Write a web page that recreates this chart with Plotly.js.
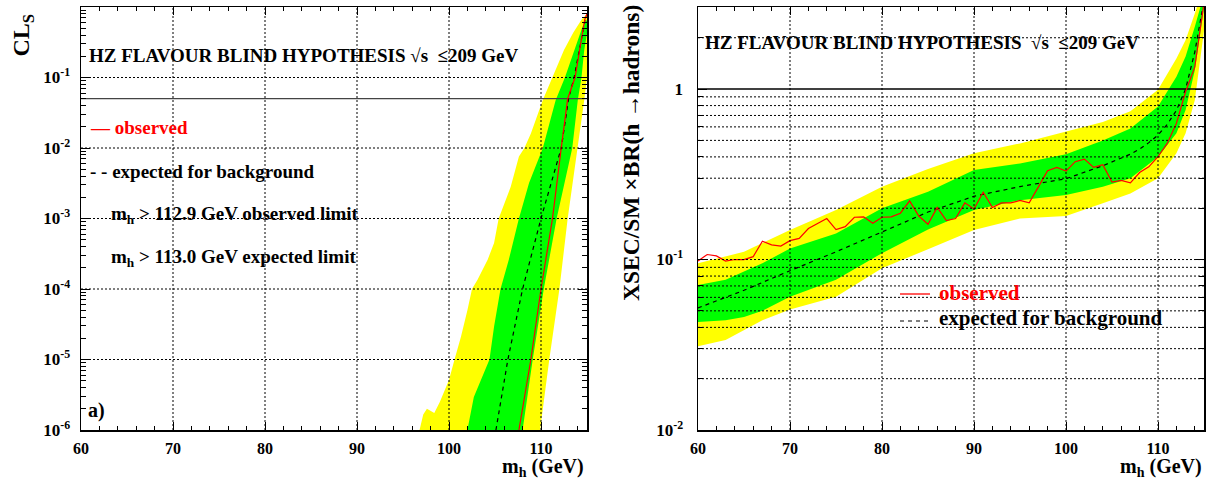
<!DOCTYPE html>
<html><head><meta charset="utf-8">
<script src="https://cdn.plot.ly/plotly-3.0.1.min.js"></script>
<style>html,body{margin:0;padding:0;background:#fff}#chart{width:1208px;height:482px}</style>
</head><body><div id="chart"></div>
<script>
// ---------------- data: panel a) CLs vs m_h ----------------
const clsObsMass = [107.6, 108.2, 108.9, 110.0, 111.25, 112.2, 112.9, 113.7, 114.2, 114.75, 115.0];
const clsObs     = [1.0e-6, 2.9e-6, 1.0e-5, 1.0e-4, 1.0e-3, 1.0e-2, 5.0e-2, 1.0e-1, 2.45e-1, 6.6e-1, 8.0e-1];
const clsExpMass = [105.1, 106.4, 108.0, 110.0, 112.2, 113.0, 113.6, 114.2, 114.8, 115.0];
const clsExp     = [1.0e-6, 1.0e-5, 1.0e-4, 1.0e-3, 1.0e-2, 5.0e-2, 1.0e-1, 2.45e-1, 6.6e-1, 7.5e-1];
const cls2sUpMass = [96.8, 97.2, 97.6, 98.0, 98.4, 99.0, 100.0, 100.6, 101.3, 102.0, 102.5, 103.1, 104.2, 104.9, 105.4, 106.7, 107.6, 108.2, 108.9, 110.2, 111.2, 112.5, 113.5, 114.4, 115.0];
const cls2sUp     = [1.0e-6, 1.66e-6, 2.0e-6, 1.86e-6, 1.74e-6, 2.5e-6, 5.1e-6, 1.0e-5, 2.1e-5, 5.0e-5, 1.0e-4, 1.35e-4, 2.6e-4, 4.5e-4, 1.0e-3, 2.8e-3, 7.6e-3, 1.0e-2, 1.6e-2, 4.8e-2, 1.0e-1, 2.45e-1, 4.3e-1, 6.6e-1, 8.0e-1];
const cls2sLoMass = [109.9, 110.9, 112.0, 112.9, 114.0, 114.7, 115.0];
const cls2sLo     = [1.0e-6, 1.0e-5, 1.0e-4, 1.0e-3, 1.0e-2, 4.8e-2, 1.0e-1];
const cls1sUpMass = [102.0, 102.7, 104.4, 104.9, 105.6, 106.5, 107.6, 108.7, 110.2, 111.6, 112.6, 113.6, 114.5, 115.0];
const cls1sUp     = [1.0e-6, 2.95e-6, 1.0e-5, 2.95e-5, 1.0e-4, 2.6e-4, 1.0e-3, 3.2e-3, 1.0e-2, 4.8e-2, 1.0e-1, 2.45e-1, 5.2e-1, 6.6e-1];
const cls1sLoMass = [108.0, 109.1, 110.3, 111.7, 113.4, 114.0, 114.4, 114.7, 115.0];
const cls1sLo     = [1.0e-6, 1.0e-5, 1.0e-4, 1.0e-3, 1.0e-2, 4.8e-2, 1.0e-1, 2.45e-1, 4.2e-1];
const CL95 = 0.05;

// ---------------- data: panel b) XSEC/SM x BR limit ----------------
const obsMass = [60,61,62,63,64,65,66,67,68,69,70,71,72,73,74,75,76,77,78,79,80,81,82,83,84,85,86,87,
                 88,89,90,91,92,93,94,95,96,97,98,99,100,101,102,103,104,105,106,107,108,109,110,111,112,113,114,115];
const obsLimit = [0.098,0.107,0.105,0.098,0.100,0.100,0.104,0.128,0.122,0.120,0.129,0.133,0.152,0.163,0.174,0.150,
                  0.156,0.177,0.178,0.163,0.177,0.178,0.187,0.221,0.180,0.161,0.202,0.169,
                  0.174,0.215,0.198,0.248,0.202,0.215,0.215,0.222,0.215,0.267,0.332,0.347,0.330,0.375,0.388,0.347,
                  0.360,0.285,0.291,0.282,0.324,0.350,0.401,0.480,0.629,0.964,1.35,3.2];
const expMass  = [60, 65, 70, 75, 80, 85, 90, 95, 100, 104, 107, 108, 109, 110, 111, 112, 113, 114, 115];
const expLimit = [0.052, 0.066, 0.086, 0.111, 0.145, 0.19, 0.235, 0.268, 0.298, 0.355, 0.415, 0.445, 0.485, 0.537, 0.62, 0.75, 1.0, 1.65, 3.3];
const bandMass = [60, 63, 65, 67, 70, 75, 80, 85, 90, 95, 100, 104, 107, 110, 112, 113, 114, 115];
const band2sHi = [0.095, 0.104, 0.111, 0.125, 0.149, 0.195, 0.267, 0.34, 0.42, 0.48, 0.56, 0.64, 0.74, 0.99, 1.51, 1.94, 2.78, 4.0];
const band1sHi = [0.071, 0.076, 0.085, 0.095, 0.116, 0.142, 0.20, 0.25, 0.335, 0.366, 0.415, 0.50, 0.588, 0.79, 1.18, 1.55, 2.32, 3.6];
const band1sLo = [0.043, 0.044, 0.046, 0.050, 0.0605, 0.076, 0.109, 0.15, 0.195, 0.223, 0.239, 0.267, 0.30, 0.40, 0.55, 0.753, 1.29, 3.0];
const band2sLo = [0.031, 0.0337, 0.0386, 0.044, 0.051, 0.0605, 0.0888, 0.115, 0.149, 0.174, 0.180, 0.214, 0.244, 0.30, 0.42, 0.55, 0.86, 2.2];
const SM_RATIO = 1;

const xTickVals = [60, 70, 80, 90, 100, 110];
const yTickVals1 = [1e-6, 1e-5, 1e-4, 1e-3, 1e-2, 1e-1];
const yTickText1 = ['10<sup>-6</sup>','10<sup>-5</sup>','10<sup>-4</sup>','10<sup>-3</sup>','10<sup>-2</sup>','10<sup>-1</sup>'];
const yTickVals2 = [1e-2, 1e-1, 1];
const yTickText2 = ['10<sup>-2</sup>','10<sup>-1</sup>','1'];

// ---------------- layout helpers ----------------
const W = 1208, H = 482, PT = 7, PB = 52;
const XMIN = 60, XMAX = 115;
const Y1 = [-6, 0];
const Y2 = [-2, Math.log10(3.03)];
const px = x => x / W;
const py = y => (H - PB - y) / (H - PT - PB);
const FONT = 'Liberation Serif, Times New Roman, serif';
const GRID = { color: 'black', width: 1, dash: '2px,2px' };

function poly(m1, v1, m2, v2) {
  return { x: m1.concat(m2.slice().reverse()), y: v1.concat(v2.slice().reverse()) };
}
function fillTrace(p, color, xa, ya) {
  return { x: p.x, y: p.y, xaxis: xa, yaxis: ya, type: 'scatter', mode: 'lines', fill: 'toself',
           fillcolor: color, line: { width: 0, color: color }, hoverinfo: 'skip', showlegend: false };
}
function lineTrace(x, y, color, dash, width, xa, ya) {
  return { x: x, y: y, xaxis: xa, yaxis: ya, type: 'scatter', mode: 'lines',
           line: { color: color, width: width, dash: dash }, hoverinfo: 'skip', showlegend: false };
}

const traces = [
  fillTrace(poly(cls2sUpMass, cls2sUp, cls2sLoMass, cls2sLo), '#ffff00', 'x', 'y'),
  fillTrace(poly(cls1sUpMass, cls1sUp, cls1sLoMass, cls1sLo), '#00ff00', 'x', 'y'),
  lineTrace([XMIN, XMAX], [CL95, CL95], '#444444', 'solid', 1.3, 'x', 'y'),
  lineTrace(clsExpMass, clsExp, '#000000', '4px,4px', 1.2, 'x', 'y'),
  lineTrace(clsObsMass, clsObs, '#ff0000', 'solid', 1.2, 'x', 'y'),
  fillTrace(poly(bandMass, band2sHi, bandMass, band2sLo), '#ffff00', 'x2', 'y2'),
  fillTrace(poly(bandMass, band1sHi, bandMass, band1sLo), '#00ff00', 'x2', 'y2'),
  lineTrace([XMIN, XMAX], [SM_RATIO, SM_RATIO], '#000000', 'solid', 1.5, 'x2', 'y2'),
  lineTrace(expMass, expLimit, '#000000', '4px,4px', 1.2, 'x2', 'y2'),
  lineTrace(obsMass, obsLimit, '#ff0000', 'solid', 1.2, 'x2', 'y2')
];

// ---------------- grid (dotted, drawn above the bands) ----------------
const shapes = [];
function vgrid(xref, v) {
  const f = (v - XMIN) / (XMAX - XMIN);
  shapes.push({ type: 'line', xref: xref + ' domain', yref: 'paper', x0: f, x1: f, y0: 0, y1: 1,
                layer: 'above', line: GRID });
}
function hgrid(xref, yref, v, rng) {
  const f = (Math.log10(v) - rng[0]) / (rng[1] - rng[0]);
  if (f <= 0.002 || f >= 0.998) return;
  shapes.push({ type: 'line', xref: xref + ' domain', yref: yref + ' domain', x0: 0, x1: 1, y0: f, y1: f,
                layer: 'above', line: GRID });
}
[70, 80, 90, 100, 110].forEach(v => { vgrid('x', v); vgrid('x2', v); });
yTickVals1.forEach(v => hgrid('x', 'y', v, Y1));
for (let e = -2; e <= 0; e++) for (let k = 1; k <= 9; k++) {
  const v = k * Math.pow(10, e);
  if (v === 1) continue;
  hgrid('x2', 'y2', v, Y2);
}
// legend samples in panel b
shapes.push({ type: 'line', xref: 'paper', yref: 'paper', x0: px(900), x1: px(930), y0: py(294), y1: py(294),
              line: { color: '#ff0000', width: 1.3 } });
shapes.push({ type: 'line', xref: 'paper', yref: 'paper', x0: px(900), x1: px(932), y0: py(321), y1: py(321),
              line: { color: '#000000', width: 1.2, dash: '4px,4px' } });

// ---------------- annotations ----------------
function ann(text, x, y, opts) {
  return Object.assign({ text: text, x: px(x), y: py(y), xref: 'paper', yref: 'paper', showarrow: false,
    xanchor: 'left', yanchor: 'middle',
    font: { family: FONT, size: 19, color: 'black', weight: 'bold' } }, opts || {});
}
const HZ = 'HZ FLAVOUR BLIND HYPOTHESIS \u221As \u00a0\u2264209 GeV';
const HZ2 = 'HZ FLAVOUR BLIND HYPOTHESIS \u00a0\u221As \u00a0\u2264209 GeV';
const annotations = [
  ann('<b>' + HZ + '</b>', 87, 55),
  ann('<b>\u2014 observed</b>', 88, 128, { font: { family: FONT, size: 19, color: '#ff0000', weight: 'bold' } }),
  ann('<b>- - expected for background</b>', 88, 171),
  ann('<b>m<sub>h</sub> > 112.9 GeV observed limit</b>', 109, 215),
  ann('<b>m<sub>h</sub> > 113.0 GeV expected limit</b>', 109, 258),
  ann('<b>a)</b>', 86, 410, { font: { family: FONT, size: 20, color: 'black', weight: 'bold' } }),
  ann('<b>CL<sub>S</sub></b>', 22, 12, { textangle: -90, xanchor: 'center', yanchor: 'top',
       font: { family: FONT, size: 24, color: 'black', weight: 'bold' } }),
  ann('<b>m<sub>h</sub> (GeV)</b>', 586, 468, { xanchor: 'right',
       font: { family: FONT, size: 20, color: 'black', weight: 'bold' } }),
  ann('<b>' + HZ2 + '</b>', 703, 42),
  ann('<b>observed</b>', 937, 293, { font: { family: FONT, size: 21, color: '#ff0000', weight: 'bold' } }),
  ann('<b>expected for background</b>', 937, 318, { font: { family: FONT, size: 21, color: 'black', weight: 'bold' } }),
  ann('<b>XSEC/SM \u00d7BR(h \u2192hadrons)</b>', 631, 3, { textangle: -90, xanchor: 'center', yanchor: 'top',
       font: { family: FONT, size: 23.5, color: 'black', weight: 'bold' } }),
  ann('<b>m<sub>h</sub> (GeV)</b>', 1204, 468, { xanchor: 'right',
       font: { family: FONT, size: 20, color: 'black', weight: 'bold' } })
];

const tickFont = { family: FONT, size: 16, color: 'black', weight: 'bold' };
function xAxis(dom, anchor) {
  return { domain: dom, anchor: anchor, range: [XMIN, XMAX], tickmode: 'array', tickvals: xTickVals,
    ticks: 'inside', ticklen: 8, tickwidth: 1, tickcolor: 'black', mirror: 'allticks',
    showline: true, linecolor: 'black', linewidth: 1.5, showgrid: false, zeroline: false,
    tickfont: tickFont, ticklabelstandoff: 3,
    minor: { tick0: 60, dtick: 2, ticks: 'inside', ticklen: 4, tickcolor: 'black', tickwidth: 1 } };
}
function yAxis(rng, vals, text, anchor, standoff) {
  return { domain: [0, 1], anchor: anchor, type: 'log', range: rng, tickmode: 'array', tickvals: vals, ticktext: text,
    ticks: 'inside', ticklen: 9, tickwidth: 1, tickcolor: 'black', mirror: 'allticks',
    showline: true, linecolor: 'black', linewidth: 1.5, showgrid: false, zeroline: false,
    tickfont: { family: FONT, size: 17, color: 'black', weight: 'bold' }, ticklabelstandoff: standoff,
    minor: { dtick: 'D1', ticks: 'inside', ticklen: 5, tickcolor: 'black', tickwidth: 1 } };
}

const layout = {
  width: W, height: H, margin: { l: 0, r: 0, t: PT, b: PB }, paper_bgcolor: 'white', plot_bgcolor: 'white',
  showlegend: false,
  xaxis: xAxis([81 / W, 587 / W], 'y'),
  yaxis: yAxis(Y1, yTickVals1, yTickText1, 'x', 6),
  xaxis2: xAxis([698 / W, 1204 / W], 'y2'),
  yaxis2: yAxis(Y2, yTickVals2, yTickText2, 'x2', 10),
  shapes: shapes, annotations: annotations
};

Plotly.newPlot('chart', traces, layout, { staticPlot: true, displayModeBar: false });
</script>
</body></html>
